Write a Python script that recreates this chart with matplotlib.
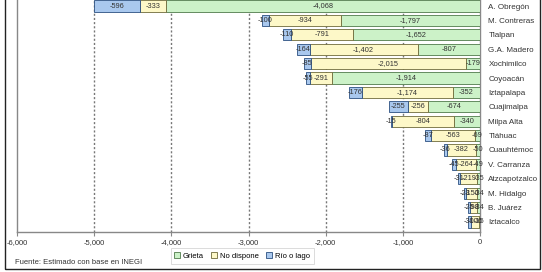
import numpy as np
import matplotlib
matplotlib.use('Agg')
import matplotlib.pyplot as plt
from matplotlib.patches import Rectangle

# Delegaciones, de arriba hacia abajo
delegaciones = ['A. Obregón', 'M. Contreras', 'Tlalpan', 'G.A. Madero', 'Xochimilco',
                'Coyoacán', 'Iztapalapa', 'Cuajimalpa', 'Milpa Alta', 'Tláhuac',
                'Cuauhtémoc', 'V. Carranza', 'Atzcapotzalco', 'M. Hidalgo', 'B. Juárez',
                'Iztacalco']
grieta = [-4068, -1797, -1652, -807, -179, -1914, -352, -674, -340, -69,
          -50, -49, -35, -34, -34, -15]
no_dispone = [-333, -934, -791, -1402, -2015, -291, -1174, -256, -804, -563,
              -382, -264, -219, -150, -98, -106]
rio_lago = [-596, -100, -110, -164, -85, -55, -176, -255, -15, -87,
            -36, -45, -31, -23, -25, -30]

x_ticks = [-6000, -5000, -4000, -3000, -2000, -1000, 0]

plt.rcParams['font.family'] = ['Liberation Sans', 'DejaVu Sans']

fig = plt.figure(figsize=(5.42, 2.72), dpi=100)
ax = fig.add_axes([17 / 542, 40 / 272, (480 - 17) / 542, 232 / 272])

y = np.arange(len(delegaciones))
g = np.array(grieta)
n = np.array(no_dispone)
r = np.array(rio_lago)

series = [
    ('Grieta', g, 0, '#ccf2c8', '#4f7a4a'),
    ('No dispone', n, g, '#fdf8c8', '#6e6a3a'),
    ('Río o lago', r, g + n, '#a9c8ee', '#2b4f80'),
]
for name, vals, left, fc, ec in series:
    bars = ax.barh(y, vals, left=left, height=0.78, color=fc, edgecolor=ec,
                   linewidth=0.6, label=name, zorder=3)
    for b, v in zip(bars, vals):
        ax.text(b.get_x() + b.get_width() / 2, b.get_y() + b.get_height() / 2,
                f'{v:,}', ha='center', va='center', fontsize=5.3,
                color='#333333', zorder=4)

ax.set_xlim(-6000, 0)
ax.set_ylim(15.7, -0.42)
ax.set_xticks(x_ticks)
ax.set_xticklabels([f'{t:,}' for t in x_ticks], fontsize=5.5, color='#333333')
ax.tick_params(axis='x', length=3, color='#888888', pad=2)

ax.set_yticks(y)
ax.set_yticklabels(delegaciones, fontsize=5.8, color='#333333')
ax.yaxis.tick_right()
ax.tick_params(axis='y', length=0, pad=6)

for t in x_ticks[1:-1]:
    ax.axvline(t, color='#777777', linestyle=(0, (1.5, 1.5)), linewidth=1, zorder=1)

for s in ['left', 'bottom', 'right']:
    ax.spines[s].set_color('#888888')
    ax.spines[s].set_linewidth(1)
ax.spines['top'].set_visible(False)

leg = fig.legend(loc='center', bbox_to_anchor=(242 / 542, 16 / 272), ncol=3,
                 fontsize=5.5, frameon=True, fancybox=False, handlelength=0.8,
                 handleheight=0.8, columnspacing=1.0, handletextpad=0.3,
                 borderpad=0.5, edgecolor='#cccccc')
leg.get_frame().set_linewidth(0.6)

fig.text(15 / 542, 9 / 272, 'Fuente: Estimado con base en INEGI', fontsize=5.5,
         color='#333333', ha='left', va='center')

fig.patches.append(Rectangle((5 / 542, 3 / 272), 535 / 542, 1.2,
                             transform=fig.transFigure, fill=False,
                             edgecolor='#222222', linewidth=1))

fig.savefig('out.png', dpi=100)
